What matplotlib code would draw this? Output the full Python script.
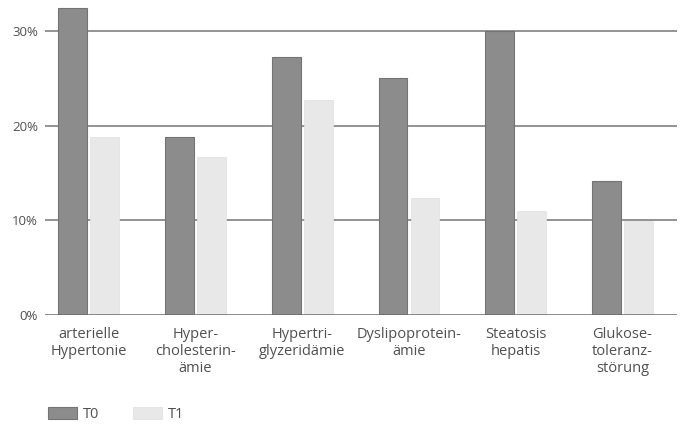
import numpy as np
import matplotlib.pyplot as plt
from matplotlib.patches import Patch
from matplotlib.ticker import FuncFormatter

# Daten
kategorien = [
    'arterielle\nHypertonie',
    'Hyper-\ncholesterin-\nämie',
    'Hypertri-\nglyzeridämie',
    'Dyslipoprotein-\nämie',
    'Steatosis\nhepatis',
    'Glukose-\ntoleranz-\nstörung',
]
t0_werte = [32.5, 18.8, 27.3, 25.1, 30.0, 14.2]
t1_werte = [18.8, 16.7, 22.7, 12.4, 11.0, 9.9]
y_ticks = [0, 10, 20, 30]

farbe_t0 = '#8c8c8c'
farbe_t1 = '#e8e8e8'
text_farbe = '#505050'

plt.rcParams['font.family'] = ['Open Sans', 'DejaVu Sans']

fig = plt.figure(figsize=(6.8, 4.25), dpi=100)
ax = fig.add_axes([45 / 680, 110 / 425, 632 / 680, 315 / 425])

x = np.arange(len(kategorien))
breite = 0.27
abstand = 0.015
ax.bar(x - breite / 2 - abstand, t0_werte, breite, color=farbe_t0,
       edgecolor='#747474', linewidth=0.8, zorder=3)
ax.bar(x + breite / 2 + abstand, t1_werte, breite, color=farbe_t1,
       edgecolor='#e0e0e0', linewidth=0.5, zorder=3)

ax.set_xlim(-0.41, 5.51)
ax.set_ylim(0, 33.3)
ax.set_yticks(y_ticks)
ax.yaxis.set_major_formatter(FuncFormatter(lambda v, _: f'{v:.0f}%'))
for v in y_ticks[1:]:
    ax.axhline(v, color='#8a8a8a', linewidth=1.3, zorder=1)
ax.axhline(0, color='#6a6a6a', linewidth=1.8, zorder=4)

ax.set_xticks(x)
ax.set_xticklabels(kategorien, fontsize=10.5, color=text_farbe, linespacing=1.15)
ax.tick_params(axis='x', length=0, pad=9)
ax.tick_params(axis='y', length=0, pad=5, labelsize=9.5, labelcolor=text_farbe)
for s in ax.spines.values():
    s.set_visible(False)

handles = [Patch(facecolor=farbe_t0, edgecolor='#747474', linewidth=0.8),
           Patch(facecolor=farbe_t1, edgecolor='#e0e0e0', linewidth=0.5)]
leg = fig.legend(handles, ['T0', 'T1'], loc='lower left',
                 bbox_to_anchor=(41 / 680, -0.01), ncol=2, frameon=False,
                 fontsize=10.5, handlelength=2.0, handleheight=0.9,
                 handletextpad=0.4, columnspacing=2.3, borderaxespad=0.1)
for t in leg.get_texts():
    t.set_color(text_farbe)

fig.savefig('out.png', dpi=100)
